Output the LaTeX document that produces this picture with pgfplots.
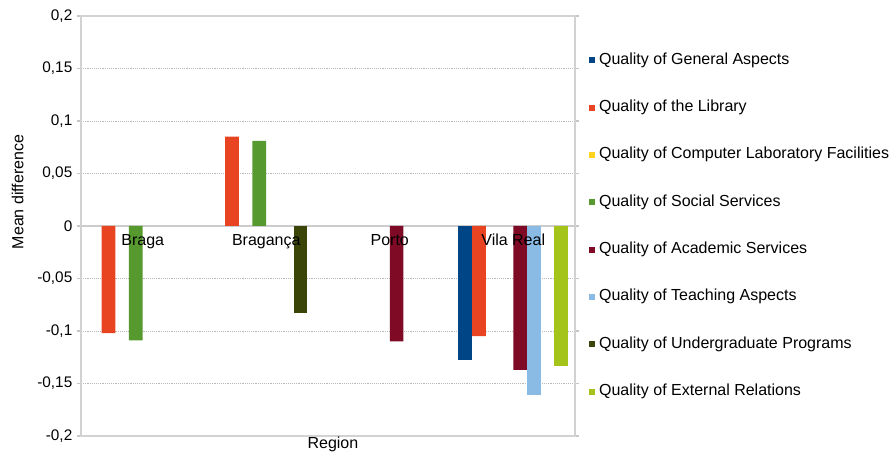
\documentclass[border=0pt]{standalone}
\usepackage{fontspec}
\setmainfont{Liberation Sans}
\usepackage{pgfplots}
\pgfplotsset{compat=1.18}
\definecolor{cA}{HTML}{004586}
\definecolor{cB}{HTML}{E84422}
\definecolor{cC}{HTML}{FFD320}
\definecolor{cD}{HTML}{569A2F}
\definecolor{cE}{HTML}{7E0A25}
\definecolor{cF}{HTML}{89BBE4}
\definecolor{cG}{HTML}{3A4507}
\definecolor{cH}{HTML}{A4C31B}
\pgfplotsset{
  sq/.style={ybar, bar width=0.1113, draw=none, fill=#1,
    legend image code/.code={\fill[#1] (0pt,-2.25pt) rectangle (4.5pt,2.25pt);}},
}
\begin{document}
\begin{tikzpicture}
\begin{axis}[
  at={(0,0)}, anchor=south west,
  scale only axis, width=370.5pt, height=315pt,
  xmin=-0.5, xmax=3.5, ymin=-0.2, ymax=0.2,
  clip=false,
  font=\fontsize{12}{14}\selectfont,
  ticklabel style={font=\fontsize{11.5}{13}\selectfont},
  ytick={-0.2,-0.15,-0.1,-0.05,0,0.05,0.1,0.15,0.2},
  /pgf/number format/.cd, fixed, use comma, assume math mode=true,
  /pgfplots/.cd,
  ymajorgrids,
  major grid style={densely dotted, gray!55},
  axis line style={gray!35, line width=1pt},
  tick align=outside,
  major tick length=3pt,
  y tick style={gray!45, line width=0.8pt},
  xtick=\empty,
  extra y ticks={0},
  extra y tick labels={},
  extra y tick style={major grid style={solid, gray!40, line width=1pt}, major tick length=0pt},
  every axis y label/.style={at={(rel axis cs:0,0.581)}, xshift=-47.6pt, rotate=90},
  every axis x label/.style={at={(rel axis cs:0.51,0)}, yshift=-6.5pt},
  ylabel={Mean difference},
  xlabel={Region},
  legend cell align=left,
  legend style={at={(1.02,0.50)}, anchor=west, draw=none, fill=none,
    row sep=20.5pt, column sep=1pt,
    nodes={inner sep=2pt, text height=8.5pt, text depth=2.5pt}},
]
\addplot[sq=cA, bar shift=-0.3896] coordinates {(3,-0.128)};
\addlegendentry{Quality of General Aspects}
\addplot[sq=cB, bar shift=-0.2783] coordinates {(0,-0.102) (1,0.085) (3,-0.105)};
\addlegendentry{Quality of the Library}
\addlegendimage{sq=cC}
\addlegendentry{Quality of Computer Laboratory Facilities}
\addplot[sq=cD, bar shift=-0.0557] coordinates {(0,-0.109) (1,0.081)};
\addlegendentry{Quality of Social Services}
\addplot[sq=cE, bar shift=0.0557] coordinates {(2,-0.110) (3,-0.137)};
\addlegendentry{Quality of Academic Services}
\addplot[sq=cF, bar shift=0.167] coordinates {(3,-0.161)};
\addlegendentry{Quality of Teaching Aspects}
\addplot[sq=cG, bar shift=0.2783] coordinates {(1,-0.083)};
\addlegendentry{Quality of Undergraduate Programs}
\addplot[sq=cH, bar shift=0.3896] coordinates {(3,-0.133)};
\addlegendentry{Quality of External Relations}
\foreach \i/\n in {0/Braga,1/Bragança,2/Porto,3/Vila Real}{
  \edef\tmp{\noexpand\node[anchor=north, inner sep=0pt, yshift=-6pt] at (axis cs:\i,0) {\n};}\tmp
}
\end{axis}
\pgfresetboundingbox
\path[use as bounding box] (-60.75pt,-12pt) rectangle (606.75pt,327pt);
\end{tikzpicture}
\end{document}
